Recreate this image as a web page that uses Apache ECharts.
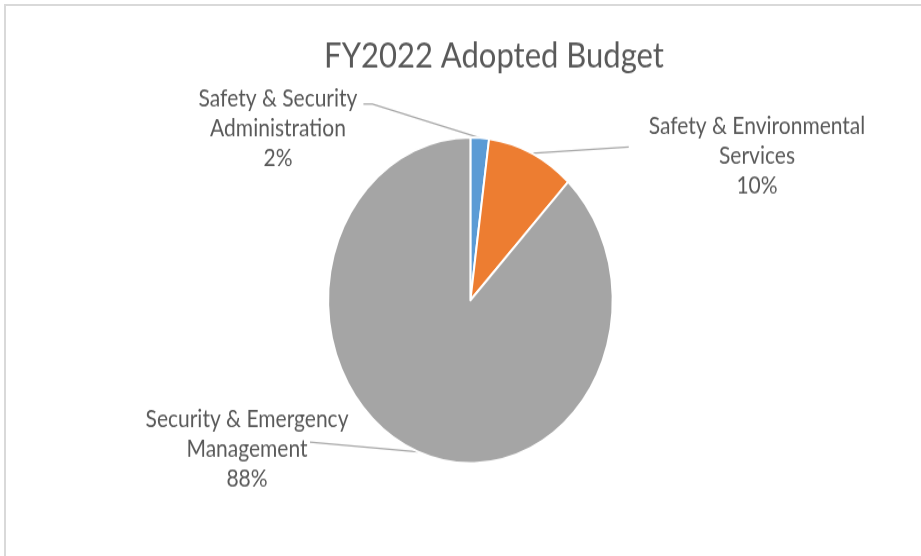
<!DOCTYPE html>
<html>
<head>
<meta charset="utf-8">
<script src="https://cdn.jsdelivr.net/npm/echarts@6/dist/echarts.min.js"></script>
<style>
  html, body { margin: 0; padding: 0; background: #fff; overflow: hidden; }
  #frame { position: absolute; left: 4px; top: 4px; width: 930px; height: 560px;
           border-top: 2px solid #d9d9d9; border-left: 2px solid #d9d9d9; }
  #chart { position: absolute; left: 0; top: 0; width: 921px; height: 486px;
           transform: scaleY(1.145); transform-origin: 0 0; }
</style>
</head>
<body>
<div id="frame"></div>
<div id="chart"></div>
<script>
const title = 'FY2022 Adopted Budget';
const categories = [
  'Safety & Security\nAdministration',
  'Safety & Environmental\nServices',
  'Security & Emergency\nManagement'
];
const shares = [2.1, 9.95, 87.95];
const colors = ['#5B9BD5', '#ED7D31', '#A5A5A5'];

// label placement (layout only)
const labelCenters = [[278, 111.8], [757, 136.2], [247, 392.1]];

const chart = echarts.init(document.getElementById('chart'), null, { renderer: 'canvas' });
chart.setOption({
  animation: false,
  backgroundColor: 'transparent',
  title: {
    text: title, left: 489, top: 28, textAlign: 'center',
    textStyle: { fontFamily: 'Lato', fontWeight: 'normal', fontSize: 31, color: '#595959' }
  },
  series: [{
    type: 'pie',
    center: [470.4, 262.3],
    radius: 142.3,
    startAngle: 90,
    clockwise: true,
    avoidLabelOverlap: false,
    percentPrecision: 0,
    data: categories.map((c, i) => ({ name: c, value: shares[i], itemStyle: { color: colors[i] } })),
    itemStyle: { borderColor: '#ffffff', borderWidth: 2 },
    label: {
      show: true, position: 'outside',
      formatter: '{b}\n{d}%',
      fontFamily: 'Lato', fontSize: 21, lineHeight: 26, color: '#595959'
    },
    labelLine: { show: true, length: 20, length2: 10, smooth: false,
                 lineStyle: { color: '#A6A6A6', width: 1.3 } },
    labelLayout: function (p) {
      const i = p.dataIndex;
      const c = labelCenters[i];
      const w = p.labelRect.width;
      const a = p.labelLinePoints ? p.labelLinePoints[0] : null;
      let pts;
      if (a) {
        if (i === 0) {
          const y = c[1] - 21;
          pts = [a, [c[0] + w / 2 + 15, y], [c[0] + w / 2 + 6, y]];
        } else if (i === 1) {
          const y = c[1] - 7.8;
          pts = [a, [c[0] - w / 2 - 20, y], [c[0] - w / 2 - 20, y]];
        } else {
          const y = c[1] - 6;
          pts = [a, [c[0] + 63, y], [c[0] + 63, y]];
        }
      }
      const out = { x: c[0], y: c[1], align: 'center', verticalAlign: 'middle' };
      if (pts) out.labelLinePoints = pts;
      return out;
    }
  }]
});
</script>
</body>
</html>
